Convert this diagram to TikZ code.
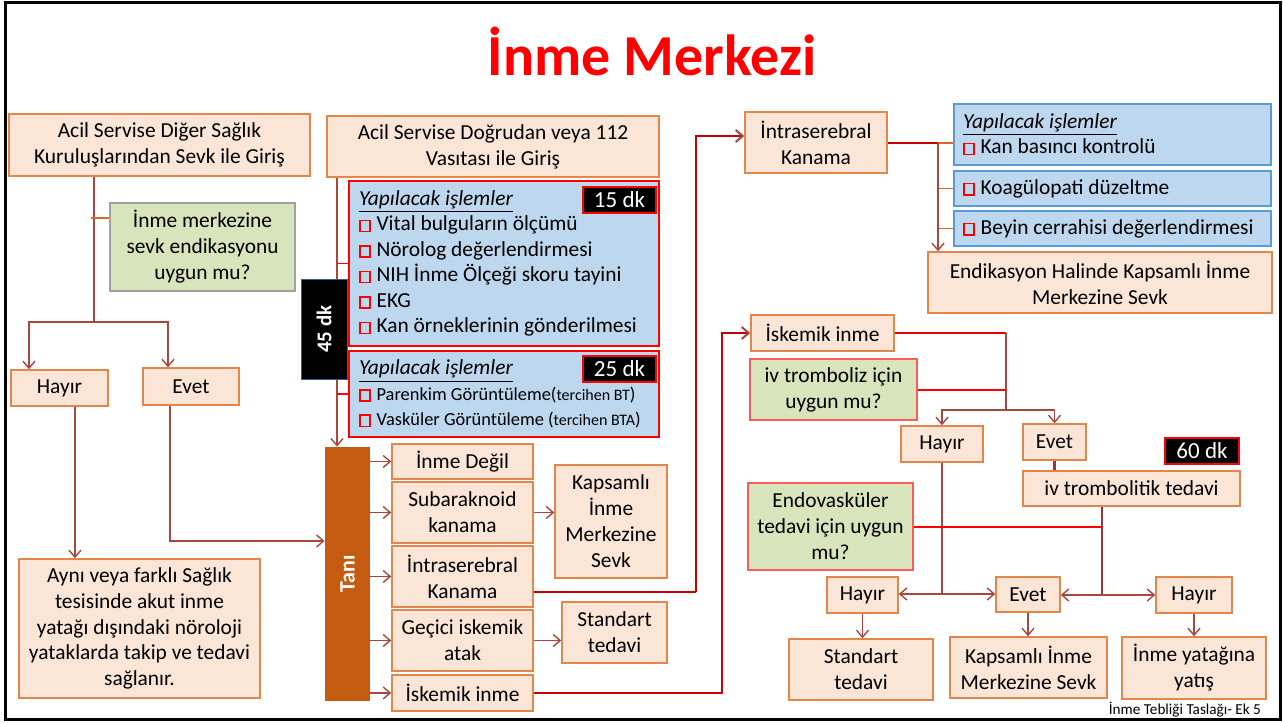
\documentclass[tikz,border=0pt]{standalone}
\usepackage{fontspec}
\setmainfont{Carlito}
\usetikzlibrary{arrows.meta}
\definecolor{peach}{RGB}{251,229,214}
\definecolor{peachline}{RGB}{226,135,76}
\definecolor{skyfill}{RGB}{189,215,238}
\definecolor{skyline}{RGB}{91,155,213}
\definecolor{sage}{RGB}{216,228,188}
\definecolor{sageline}{RGB}{160,160,160}
\definecolor{softred}{RGB}{255,90,90}
\definecolor{linkbrown}{RGB}{168,70,64}
\definecolor{darkbrown}{RGB}{149,55,53}
\definecolor{linkred}{RGB}{200,0,0}
\definecolor{brightred}{RGB}{255,0,0}
\definecolor{tickorange}{RGB}{214,105,40}
\definecolor{rust}{RGB}{197,90,17}
\definecolor{slate}{RGB}{56,93,138}
\newcommand{\chk}{{\color{brightred}\fboxrule=0.8pt\fboxsep=0pt\fbox{\rule{0pt}{4.8pt}\hspace{4.2pt}}}\hspace{3pt}}
\newcommand{\todohead}{\underline{\textit{Yapılacak işlemler}}}
\newcommand{\smalltxt}[1]{{\fontsize{8}{10}\selectfont #1}}

\begin{document}
\begin{tikzpicture}[x=0.5pt, y=-0.5pt,
    box/.style={draw=peachline, fill=peach, line width=0.75pt, inner sep=0pt, align=center, font=\fontsize{10.7}{13}\selectfont},
    ask/.style={box, draw=sageline, fill=sage},
    askred/.style={box, draw=softred, fill=sage},
    todo/.style={draw=brightred, fill=skyfill, line width=0.75pt, inner ysep=0pt, align=flush left, font=\fontsize{10.7}{12.75}\selectfont},
    clock/.style={draw=brightred, fill=black, text=white, line width=0.75pt, inner sep=0pt, font=\fontsize{11.5}{13}\selectfont},
    ln/.style={draw=linkbrown, line width=0.7pt},
    arr/.style={ln, -{Straight Barb[length=3.5pt, width=6pt]}},
    redln/.style={draw=linkred, line width=1pt},
    redarr/.style={redln, -{Straight Barb[length=3.5pt, width=6pt, color=linkbrown]}},
    tick/.style={draw=tickorange, line width=0.7pt},
    thickln/.style={draw=darkbrown, line width=1.3pt}
  ]
  \useasboundingbox (0,0) rectangle (1283,722);
  \draw[line width=1.5pt] (5.5,3) rectangle (1280.5,719.5);

  \node[text=brightred, font=\bfseries\fontsize{29}{32}\selectfont] (title) at (652,51) {İnme Merkezi};

  % left entry
  \node[box, minimum width=150.5pt, minimum height=31pt] (srcA) at (159.5,145) {Acil Servise Diğer Sağlık\\Kuruluşlarından Sevk ile Giriş};
  \node[ask, minimum width=92.5pt, minimum height=44pt] (qRefer) at (202.5,247) {İnme merkezine\\sevk endikasyonu\\uygun mu?};
  \node[box, minimum width=48.5pt, minimum height=18pt] (noL) at (59.5,388) {Hayır};
  \node[box, minimum width=48pt, minimum height=18.5pt] (yesL) at (191,386.5) {Evet};
  \node[box, minimum width=120.5pt, minimum height=69.5pt, font=\fontsize{10.7}{12.85}\selectfont] (stayL) at (139.5,628.5) {Aynı veya farklı Sağlık\\tesisinde akut inme\\yatağı dışındaki nöroloji\\yataklarda takip ve tedavi\\sağlanır.};

  \coordinate (jA) at (94,322);
  \coordinate (jAt) at (91,218);
  \draw[ln] (srcA.south -| jA) -- (jA);
  \draw[tick] (jAt) -- (qRefer.west |- jAt);
  \draw[arr] (jA) -| (29,0 |- noL.north);
  \draw[arr] (jA) -| (168,0 |- yesL.north);
  \draw[arr] (75,0 |- noL.south) -- (75,0 |- stayL.north);

  % direct entry
  \node[box, minimum width=166pt, minimum height=30.5pt] (srcB) at (493,146.5) {Acil Servise Doğrudan veya 112\\Vasıtası ile Giriş};
  \node[todo, inner xsep=5pt, text width=145pt, minimum height=82.5pt] (todo1) at (504,263.5) {\todohead\\
    \chk Vital bulguların ölçümü\\
    \chk Nörolog değerlendirmesi\\
    \chk NIH İnme Ölçeği skoru tayini\\
    \chk EKG\\
    \chk Kan örneklerinin gönderilmesi};
  \node[todo, inner xsep=5pt, text width=145pt, minimum height=43pt, font=\fontsize{9.2}{12.75}\selectfont] (todo2) at (504,394) {{\fontsize{10.7}{12.75}\selectfont\todohead}\\
    \chk Parenkim Görüntüleme(\smalltxt{tercihen BT})\\
    \chk Vasküler Görüntüleme (\smalltxt{tercihen BTA})};
  \node[clock, minimum width=36.5pt, minimum height=13pt] (t15) at (619.5,200) {15 dk};
  \node[clock, minimum width=36.5pt, minimum height=13pt] (t25) at (619.5,369) {25 dk};

  \node[fill=rust, inner sep=0pt, minimum width=22.5pt, minimum height=127pt] (tani) at (347.5,574) {};
  \node[rotate=90, text=white, font=\bfseries\fontsize{11}{12}\selectfont] (taniLbl) at (tani) {Tanı};

  \draw[ln] (337,0 |- srcB.south) -- (337,0 |- todo2.south);
  \draw[arr] (337,0 |- todo2.south) -- (337,0 |- tani.north);
  \draw[draw=brightred, line width=0.7pt] (337,0 |- todo1.west) -- (todo1.west);
  \draw[draw=brightred, line width=0.7pt] (337,0 |- todo2.west) -- (todo2.west);
  \node[rotate=90, fill=black, draw=slate, line width=0.5pt, inner sep=0pt, minimum width=50pt, minimum height=23pt, text=white, font=\bfseries\fontsize{10.5}{12}\selectfont] (t45) at (324,329) {45 dk};

  \draw[arr] (170,0 |- yesL.south) |- (tani.west |- 0,541);

  % diagnoses
  \node[box, minimum width=70.5pt, minimum height=17.5pt] (notStroke) at (462.5,461.5) {İnme Değil};
  \node[box, minimum width=70.5pt, minimum height=30.5pt] (sah) at (462.5,512.5) {Subaraknoid\\kanama};
  \node[box, minimum width=70.5pt, minimum height=30.5pt] (ich) at (462.5,576.5) {İntraserebral\\Kanama};
  \node[box, minimum width=70.5pt, minimum height=30.5pt] (tia) at (462.5,640.5) {Geçici iskemik\\atak};
  \node[box, minimum width=70.5pt, minimum height=18pt] (isch) at (462.5,693) {İskemik inme};
  \node[box, minimum width=56pt, minimum height=56.5pt] (refComp) at (611,521.5) {Kapsamlı\\İnme\\Merkezine\\Sevk};
  \node[box, minimum width=52.5pt, minimum height=30.5pt] (stdA) at (614.5,632.5) {Standart\\tedavi};

  \draw[arr] (tani.east |- notStroke.west) -- (notStroke.west);
  \draw[arr] (tani.east |- sah.west) -- (sah.west);
  \draw[arr] (tani.east |- ich.west) -- (ich.west);
  \draw[arr] (tani.east |- tia.west) -- (tia.west);
  \draw[arr] (tani.east |- isch.west) -- (isch.west);
  \draw[arr] (sah.east) -- (refComp.west |- sah.east);
  \draw[arr] (tia.east) -- (stdA.west |- tia.east);

  % hemorrhage branch
  \node[box, minimum width=71pt, minimum height=30.5pt] (ichR) at (816,142.5) {İntraserebral\\Kanama};
  \node[todo, draw=skyline, inner xsep=4.5pt, text width=149.5pt, minimum height=30.5pt] (todoK) at (1112.5,134.5) {\todohead\\\chk Kan basıncı kontrolü};
  \node[todo, draw=skyline, inner xsep=4.5pt, text width=149.5pt, minimum height=17.5pt] (todoC) at (1112.5,188.5) {\chk Koagülopati düzeltme};
  \node[todo, draw=skyline, inner xsep=4.5pt, text width=149.5pt, minimum height=17.5pt] (todoB) at (1112.5,228.5) {\chk Beyin cerrahisi değerlendirmesi};
  \node[box, minimum width=172pt, minimum height=30.5pt] (endik) at (1100,282.5) {Endikasyon Halinde Kapsamlı İnme\\Merkezine Sevk};

  \coordinate (kR) at (696,592);
  \draw[redln] (ich.east |- kR) -- (kR);
  \draw[redarr] (kR) |- ([yshift=3.25pt]ichR.west);
  \coordinate (jK) at (938,143);
  \draw[thickln, draw=linkred] (ichR.east |- jK) -- (jK);
  \draw[tick] (jK) -- (todoK.west |- jK);
  \draw[tick] (jK |- todoC.west) -- (todoC.west);
  \draw[tick] (jK |- todoB.west) -- (todoB.west);
  \draw[arr] (jK) -- (jK |- endik.north);

  % ischemic branch
  \node[box, minimum width=71.5pt, minimum height=18pt] (ischR) at (822.5,333) {İskemik inme};
  \node[askred, minimum width=83.5pt, minimum height=30.5pt] (qTpa) at (833.5,389.5) {iv tromboliz için\\uygun mu?};
  \node[box, minimum width=41pt, minimum height=18pt] (noT) at (942,444) {Hayır};
  \node[box, minimum width=31.5pt, minimum height=18pt] (yesT) at (1054.5,442) {Evet};
  \node[clock, minimum width=37pt, minimum height=13pt] (t60) at (1202,451) {60 dk};
  \node[box, minimum width=108.5pt, minimum height=17.5pt] (tpa) at (1131.5,488.5) {iv trombolitik tedavi};
  \node[askred, minimum width=82.5pt, minimum height=43.5pt] (qEvt) at (830.5,526.5) {Endovasküler\\tedavi için uygun\\mu?};
  \node[box, minimum width=35.5pt, minimum height=18pt] (noE1) at (862.5,595) {Hayır};
  \node[box, minimum width=32pt, minimum height=17.5pt] (yesE) at (1028,594.5) {Evet};
  \node[box, minimum width=38pt, minimum height=18pt] (noE2) at (1194,595) {Hayır};
  \node[box, minimum width=72pt, minimum height=30.5pt] (stdB) at (861,669.5) {Standart\\tedavi};
  \node[box, minimum width=78.5pt, minimum height=30.5pt] (refB) at (1028.5,667.5) {Kapsamlı İnme\\Merkezine Sevk};
  \node[box, minimum width=72pt, minimum height=31pt] (bed) at (1194,668) {İnme yatağına\\yatış};

  \coordinate (kI) at (722,693);
  \draw[redarr] (isch.east) -- (kI) |- (ischR.west);
  \coordinate (jT) at (1006,410);
  \draw[redln, draw=red!90!black] (ischR.east) -- (jT |- ischR.east);
  \draw[ln] (jT |- ischR.east) -- (jT);
  \draw[redln, draw=brightred] (qTpa.east) -- (jT |- qTpa.east);
  \draw[arr] (jT) -| (noT.north);
  \draw[arr] (jT) -| (yesT.north);
  \draw[thickln] (yesT.south) -- (yesT.south |- tpa.north);

  \coordinate (jN) at (942,594);
  \draw[ln] (noT.south) -- (jN);
  \draw[arr] (jN) -- (noE1.east |- jN);
  \draw[arr] (jN) -- (yesE.west |- jN);
  \coordinate (jE) at (1102,595);
  \draw[thickln] (tpa.south -| jE) -- (jE);
  \draw[redln, draw=brightred] (qEvt.east) -- (jE |- qEvt.east);
  \draw[arr] (jE) -- (yesE.east |- jE);
  \draw[arr] (jE) -- (noE2.west |- jE);
  \draw[arr] (noE1.south) -- (noE1.south |- stdB.north);
  \draw[arr] (yesE.south) -- (yesE.south |- refB.north);
  \draw[arr] (noE2.south) -- (noE2.south |- bed.north);

  \node[anchor=base east, font=\fontsize{7.6}{9}\selectfont] (foot) at (1268,714) {İnme Tebliği Taslağı- Ek 5};
\end{tikzpicture}
\end{document}
